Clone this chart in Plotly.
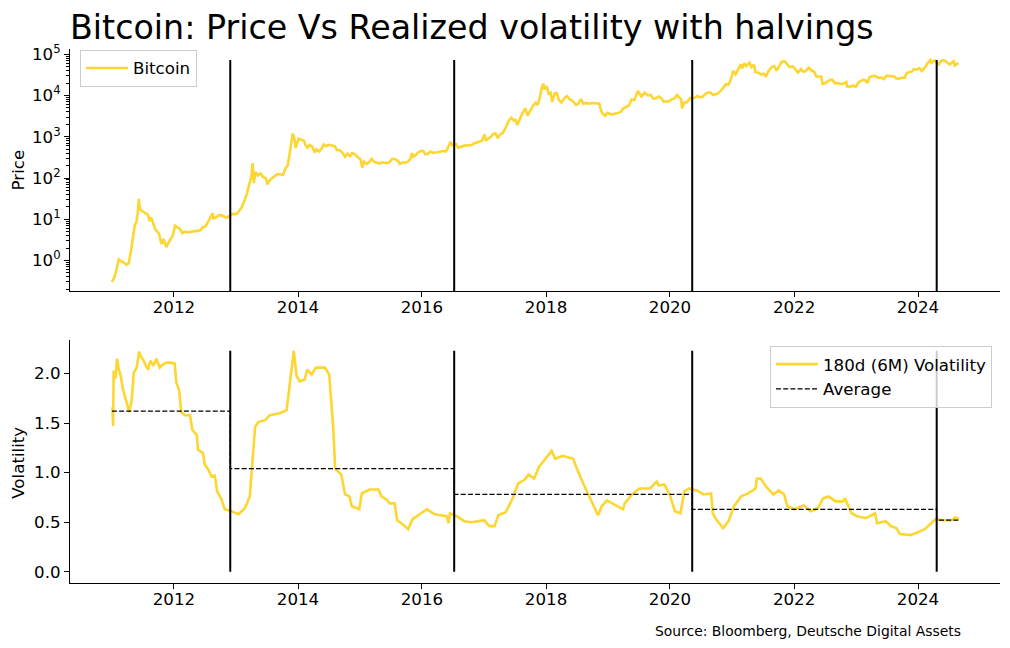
import plotly.graph_objects as go

# ---------------- data ----------------
price_dates = [
    "2011-01-01","2011-01-15","2011-02-01","2011-02-10","2011-02-25","2011-03-10","2011-03-28","2011-04-10",
    "2011-04-25","2011-05-05","2011-05-15","2011-05-25","2011-06-02","2011-06-08","2011-06-15","2011-06-25",
    "2011-07-05","2011-07-20","2011-08-01","2011-08-10","2011-08-20","2011-09-01","2011-09-15","2011-09-25",
    "2011-10-05","2011-10-15","2011-10-20","2011-11-01","2011-11-18","2011-11-28","2011-12-10","2011-12-25",
    "2012-01-08","2012-01-20","2012-02-05","2012-02-20","2012-03-05","2012-03-20","2012-04-05","2012-04-20",
    "2012-05-05","2012-05-20","2012-06-05","2012-06-20","2012-07-05","2012-07-20","2012-08-05","2012-08-16",
    "2012-08-20","2012-09-05","2012-09-20","2012-10-05","2012-10-20","2012-11-05","2012-11-20","2012-12-05",
    "2012-12-20","2013-01-05","2013-01-20","2013-02-05","2013-02-20","2013-03-05","2013-03-20","2013-04-01",
    "2013-04-09","2013-04-16","2013-04-25","2013-05-10","2013-05-25","2013-06-10","2013-06-25","2013-07-05",
    "2013-07-20","2013-08-05","2013-08-20","2013-09-05","2013-09-20","2013-10-05","2013-10-20","2013-11-01",
    "2013-11-10","2013-11-18","2013-11-25","2013-11-30","2013-12-05","2013-12-12","2013-12-18","2013-12-25",
    "2014-01-05","2014-01-20","2014-02-05","2014-02-15","2014-02-25","2014-03-10","2014-03-25","2014-04-10",
    "2014-04-20","2014-05-05","2014-05-20","2014-06-01","2014-06-15","2014-07-01","2014-07-20","2014-08-05",
    "2014-08-18","2014-09-01","2014-09-20","2014-10-05","2014-10-20","2014-11-05","2014-11-15","2014-12-01",
    "2014-12-20","2015-01-05","2015-01-14","2015-01-25","2015-02-10","2015-02-25","2015-03-10","2015-03-25",
    "2015-04-10","2015-04-25","2015-05-10","2015-05-25","2015-06-10","2015-06-25","2015-07-10","2015-07-25",
    "2015-08-10","2015-08-25","2015-09-10","2015-09-25","2015-10-10","2015-10-25","2015-11-04","2015-11-12",
    "2015-11-25","2015-12-10","2015-12-25","2016-01-10","2016-01-20","2016-02-05","2016-02-20","2016-03-05",
    "2016-03-20","2016-04-05","2016-04-20","2016-05-05","2016-05-20","2016-06-01","2016-06-17","2016-06-25",
    "2016-07-05","2016-07-20","2016-08-02","2016-08-20","2016-09-05","2016-09-20","2016-10-05","2016-10-20",
    "2016-11-05","2016-11-20","2016-12-05","2016-12-20","2017-01-04","2017-01-12","2017-01-25","2017-02-10",
    "2017-02-25","2017-03-10","2017-03-24","2017-04-05","2017-04-20","2017-05-05","2017-05-25","2017-06-10",
    "2017-06-25","2017-07-05","2017-07-16","2017-07-30","2017-08-10","2017-08-20","2017-09-01","2017-09-14",
    "2017-09-28","2017-10-10","2017-10-20","2017-11-01","2017-11-12","2017-11-25","2017-12-07","2017-12-17",
    "2017-12-22","2018-01-05","2018-01-17","2018-01-28","2018-02-06","2018-02-20","2018-03-05","2018-03-18",
    "2018-04-01","2018-04-22","2018-05-05","2018-05-20","2018-06-05","2018-06-28","2018-07-10","2018-07-25",
    "2018-08-10","2018-08-25","2018-09-05","2018-09-20","2018-10-05","2018-10-25","2018-11-10","2018-11-25",
    "2018-12-15","2018-12-28","2019-01-10","2019-01-28","2019-02-10","2019-02-25","2019-03-15","2019-04-02",
    "2019-04-20","2019-05-05","2019-05-20","2019-06-05","2019-06-26","2019-07-05","2019-07-17","2019-08-05",
    "2019-08-25","2019-09-10","2019-09-25","2019-10-10","2019-10-26","2019-11-10","2019-11-25","2019-12-10",
    "2019-12-25","2020-01-10","2020-01-25","2020-02-12","2020-02-28","2020-03-08","2020-03-12","2020-03-25",
    "2020-04-10","2020-04-29","2020-05-11","2020-05-25","2020-06-10","2020-06-25","2020-07-10","2020-07-28",
    "2020-08-15","2020-08-30","2020-09-10","2020-09-25","2020-10-10","2020-10-25","2020-11-10","2020-11-25",
    "2020-12-10","2020-12-25","2021-01-08","2021-01-22","2021-02-08","2021-02-21","2021-03-01","2021-03-13",
    "2021-03-25","2021-04-13","2021-04-25","2021-05-10","2021-05-19","2021-06-05","2021-06-22","2021-07-05",
    "2021-07-20","2021-08-05","2021-08-22","2021-09-06","2021-09-21","2021-10-05","2021-10-20","2021-11-08",
    "2021-11-25","2021-12-05","2021-12-25","2022-01-10","2022-01-24","2022-02-10","2022-02-24","2022-03-10",
    "2022-03-29","2022-04-15","2022-04-30","2022-05-12","2022-05-28","2022-06-10","2022-06-18","2022-07-05",
    "2022-07-30","2022-08-14","2022-08-30","2022-09-13","2022-09-28","2022-10-15","2022-11-05","2022-11-10",
    "2022-11-25","2022-12-15","2022-12-31","2023-01-15","2023-01-30","2023-02-15","2023-02-28","2023-03-10",
    "2023-03-22","2023-04-12","2023-04-28","2023-05-12","2023-05-30","2023-06-15","2023-06-30","2023-07-15",
    "2023-07-30","2023-08-15","2023-08-25","2023-09-10","2023-09-28","2023-10-15","2023-10-25","2023-11-10",
    "2023-11-25","2023-12-08","2023-12-25","2024-01-10","2024-01-23","2024-02-10","2024-02-28","2024-03-14",
    "2024-03-20","2024-04-08","2024-04-20","2024-05-01","2024-05-20","2024-06-07","2024-06-25","2024-07-05",
    "2024-07-29","2024-08-05","2024-08-20","2024-08-27",
]
price_values = [
    0.30, 0.38, 0.70, 1.05, 0.95, 0.90, 0.78, 0.85,
    1.9, 3.3, 7.0, 8.5, 14, 31, 18, 16,
    15, 13.5, 13, 9, 11, 8, 5.5, 5.0,
    4.5, 3.0, 2.5, 3.3, 2.1, 2.6, 3.2, 4.0,
    7.0, 6.4, 5.8, 4.6, 5.0, 4.8, 4.9, 5.1,
    5.0, 5.1, 5.4, 6.4, 6.7, 8.6, 11, 14,
    10.5, 11, 12.4, 12.5, 11.8, 10.8, 11.9, 13.0,
    13.5, 13.4, 16, 20, 29, 40, 70, 104,
    230, 75, 140, 115, 130, 105, 100, 70,
    90, 105, 115, 125, 125, 120, 175, 200,
    330, 600, 800, 1130, 1100, 850, 540, 700,
    900, 850, 800, 620, 540, 630, 580, 420,
    500, 440, 520, 650, 590, 640, 620, 590,
    480, 480, 410, 330, 390, 340, 400, 380,
    320, 280, 180, 250, 220, 240, 290, 250,
    235, 225, 240, 238, 230, 245, 290, 290,
    265, 220, 240, 235, 245, 290, 400, 330,
    360, 420, 450, 450, 380, 385, 440, 410,
    410, 420, 440, 450, 440, 530, 760, 630,
    670, 665, 540, 580, 610, 610, 615, 630,
    700, 730, 760, 800, 1130, 800, 900, 1000,
    1180, 1200, 930, 1130, 1240, 1550, 2400, 2900,
    2500, 2600, 1930, 2750, 3400, 4100, 4900, 3250,
    4200, 4800, 6000, 6700, 5900, 8700, 16000, 19500,
    14000, 17000, 11000, 11700, 7000, 11200, 11500, 7800,
    6800, 8900, 9700, 8200, 7500, 5900, 6400, 8200,
    6300, 6700, 6400, 6500, 6600, 6450, 6400, 3900,
    3200, 3800, 3600, 3450, 3650, 3850, 3950, 4900,
    5300, 5800, 8000, 7800, 12900, 11000, 9500, 11800,
    10100, 10300, 8400, 8600, 9500, 8800, 7100, 7300,
    7200, 8100, 8400, 10300, 8700, 8000, 4900, 6700,
    6900, 8800, 8600, 8800, 9800, 9200, 9250, 11000,
    11900, 11700, 10300, 10700, 11300, 13000, 15300, 19000,
    18300, 24700, 40000, 33000, 46000, 57000, 45000, 61000,
    52000, 63500, 49000, 56000, 37000, 36000, 32500, 34000,
    29800, 40000, 49000, 52000, 40500, 51500, 66000, 67500,
    57000, 49000, 50800, 41800, 36300, 44000, 38000, 39000,
    47500, 40500, 38000, 29000, 29400, 29000, 19000, 20200,
    23800, 24400, 19800, 20200, 19400, 19100, 21300, 16600,
    16500, 17400, 16500, 20900, 22800, 24300, 23100, 20300,
    28200, 30200, 29300, 26800, 27700, 25100, 30500, 30300,
    29300, 29200, 26000, 25800, 27000, 27000, 34500, 37300,
    37800, 43800, 43000, 46600, 39500, 47500, 62500, 73000,
    62000, 71600, 64900, 57000, 71400, 70800, 61500, 56700,
    68200, 54000, 59500, 59000,
]

vol_dates = [
    "2011-01-02","2011-01-04","2011-01-08","2011-01-11","2011-01-22","2011-01-31","2011-02-10","2011-02-21",
    "2011-03-07","2011-03-29","2011-04-13","2011-04-27","2011-05-10","2011-05-27","2011-06-10","2011-06-21",
    "2011-07-04","2011-07-20","2011-08-02","2011-08-15","2011-09-02","2011-09-20","2011-10-10","2011-10-27",
    "2011-11-18","2011-12-13","2012-01-06","2012-01-15","2012-02-01","2012-02-13","2012-03-07","2012-04-05",
    "2012-04-19","2012-05-15","2012-05-22","2012-06-20","2012-07-01","2012-07-19","2012-08-10","2012-08-29",
    "2012-09-12","2012-10-08","2012-10-26","2012-12-05","2013-01-15","2013-02-22","2013-03-23","2013-04-09",
    "2013-04-23","2013-05-12","2013-06-21","2013-07-20","2013-09-16","2013-10-26","2013-11-13","2013-11-28",
    "2013-12-07","2013-12-23","2014-01-11","2014-02-10","2014-02-24","2014-03-22","2014-04-16","2014-06-08",
    "2014-07-04","2014-07-17","2014-07-28","2014-08-08","2014-09-13","2014-10-05","2014-10-31","2014-11-14",
    "2014-12-28","2015-01-12","2015-02-28","2015-04-20","2015-05-08","2015-06-07","2015-06-25","2015-07-24",
    "2015-08-08","2015-09-02","2015-10-12","2015-11-07","2015-12-20","2016-01-30","2016-03-17","2016-05-26",
    "2016-06-06","2016-06-14","2016-07-24","2016-09-06","2016-10-20","2017-01-01","2017-02-01","2017-03-04",
    "2017-03-26","2017-05-08","2017-06-18","2017-07-20","2017-08-29","2017-09-20","2017-10-23","2017-11-21",
    "2017-12-24","2018-02-03","2018-02-24","2018-04-09","2018-06-10","2018-07-02","2018-08-11","2018-09-24",
    "2018-11-03","2018-11-25","2018-12-26","2019-02-06","2019-03-31","2019-04-09","2019-05-23","2019-07-04",
    "2019-09-06","2019-10-16","2019-10-27","2019-11-29","2019-12-30","2020-01-30","2020-03-03","2020-03-25",
    "2020-04-23","2020-06-07","2020-07-17","2020-08-30","2020-09-10","2020-09-28","2020-11-10","2020-12-11",
    "2021-01-12","2021-02-23","2021-04-06","2021-05-19","2021-05-27","2021-06-18","2021-07-20","2021-09-01",
    "2021-10-02","2021-11-03","2021-11-23","2022-01-05","2022-02-26","2022-04-09","2022-05-21","2022-06-21",
    "2022-07-24","2022-09-02","2022-10-16","2022-10-27","2022-11-10","2022-12-06","2023-01-08","2023-02-28",
    "2023-04-23","2023-05-05","2023-06-25","2023-07-26","2023-08-26","2023-09-17","2023-11-18","2023-12-21",
    "2024-02-10","2024-03-14","2024-04-13","2024-05-27","2024-07-17","2024-08-08","2024-08-29",
]
vol_values = [
    1.66, 1.66, 1.47, 2.03, 1.95, 2.15, 2.05, 1.98,
    1.84, 1.69, 1.61, 1.73, 2.01, 2.06, 2.22, 2.17,
    2.14, 2.08, 2.04, 2.13, 2.08, 2.15, 2.06, 2.09,
    2.11, 2.11, 2.10, 1.91, 1.83, 1.61, 1.58, 1.58,
    1.43, 1.38, 1.23, 1.20, 1.08, 1.04, 0.96, 0.97,
    0.81, 0.73, 0.63, 0.61, 0.58, 0.64, 0.76, 1.14,
    1.46, 1.51, 1.53, 1.58, 1.60, 1.63, 1.91, 2.08,
    2.23, 1.98, 1.92, 1.94, 2.04, 1.99, 2.06, 2.06,
    1.99, 1.69, 1.44, 1.04, 0.98, 0.78, 0.76, 0.66,
    0.63, 0.79, 0.83, 0.83, 0.76, 0.73, 0.69, 0.69,
    0.52, 0.49, 0.43, 0.53, 0.58, 0.63, 0.58, 0.56,
    0.49, 0.59, 0.56, 0.51, 0.50, 0.52, 0.46, 0.46,
    0.57, 0.60, 0.74, 0.89, 0.93, 0.98, 0.94, 1.06,
    1.13, 1.22, 1.14, 1.17, 1.14, 1.04, 0.88, 0.71,
    0.57, 0.66, 0.72, 0.68, 0.63, 0.69, 0.78, 0.84,
    0.84, 0.91, 0.87, 0.88, 0.78, 0.61, 0.59, 0.81,
    0.84, 0.82, 0.78, 0.79, 0.59, 0.53, 0.44, 0.51,
    0.66, 0.76, 0.79, 0.84, 0.94, 0.94, 0.86, 0.78,
    0.82, 0.78, 0.66, 0.63, 0.67, 0.61, 0.64, 0.74,
    0.76, 0.71, 0.71, 0.74, 0.69, 0.59, 0.56, 0.54,
    0.59, 0.49, 0.51, 0.46, 0.44, 0.38, 0.37, 0.39,
    0.43, 0.48, 0.53, 0.52, 0.52, 0.55, 0.53,
]

halving_dates = ["2012-11-28", "2016-07-09", "2020-05-11", "2024-04-20"]
epoch_bounds = ["2011-01-01", "2012-11-28", "2016-07-09", "2020-05-11", "2024-04-20", "2024-08-27"]
epoch_avg = [1.62, 1.04, 0.78, 0.63, 0.52]

ytick_vals_top = [1, 10, 100, 1000, 10000, 100000]
ytick_text_top = ["10<sup>0</sup>", "10<sup>1</sup>", "10<sup>2</sup>", "10<sup>3</sup>", "10<sup>4</sup>", "10<sup>5</sup>"]

# ---------------- style ----------------
W, H = 1010, 648
GOLD = "#FDD631"
FONT = "DejaVu Sans"
FS = 16.67
TOP_LOG_RANGE = [-0.75, 5.14]
X_RANGE = ["2010-04-29", "2025-04-28"]

def py(px):
    return 1 - px / H

fig = go.Figure()

fig.add_trace(go.Scatter(x=price_dates, y=price_values, mode="lines", name="Bitcoin",
                         line=dict(color=GOLD, width=2.6), xaxis="x", yaxis="y", legend="legend"))
pmax = max(price_values)
for h in halving_dates:
    fig.add_trace(go.Scatter(x=[h, h], y=[10 ** TOP_LOG_RANGE[0], pmax], mode="lines",
                             line=dict(color="black", width=2), showlegend=False,
                             xaxis="x", yaxis="y", hoverinfo="skip"))

fig.add_trace(go.Scatter(x=vol_dates, y=vol_values, mode="lines", name="180d (6M) Volatility",
                         line=dict(color=GOLD, width=2.6), xaxis="x2", yaxis="y2", legend="legend2"))
avg_x, avg_y = [], []
for i, a in enumerate(epoch_avg):
    avg_x += [epoch_bounds[i], epoch_bounds[i + 1]]
    avg_y += [a, a]
fig.add_trace(go.Scatter(x=avg_x, y=avg_y, mode="lines", name="Average",
                         line=dict(color="black", width=1.3, dash="5px,2.2px"),
                         xaxis="x2", yaxis="y2", legend="legend2"))
vmax = max(vol_values)
for h in halving_dates:
    fig.add_trace(go.Scatter(x=[h, h], y=[0, vmax], mode="lines",
                             line=dict(color="black", width=2), showlegend=False,
                             xaxis="x2", yaxis="y2", hoverinfo="skip"))

axis_common = dict(showline=True, linecolor="black", linewidth=1.1, ticks="outside",
                   ticklen=5, tickwidth=1.1, tickcolor="black", showgrid=False, zeroline=False,
                   tickfont=dict(family=FONT, size=FS, color="black"))

xdom = [70 / W, 1000 / W]
legend_common = dict(bgcolor="rgba(255,255,255,0.8)", bordercolor="#cccccc", borderwidth=1,
                     itemwidth=42, font=dict(family=FONT, size=FS, color="black"))
fig.update_layout(
    width=W, height=H, margin=dict(l=0, r=0, t=0, b=0),
    paper_bgcolor="white", plot_bgcolor="white",
    font=dict(family=FONT, color="black"),
    xaxis=dict(domain=xdom, anchor="y", type="date", range=X_RANGE, ticklabelstandoff=-4,
               dtick="M24", tick0="2012-01-01", tickformat="%Y", **axis_common),
    yaxis=dict(domain=[py(288), py(43)], anchor="x", type="log", range=TOP_LOG_RANGE,
               tickmode="array", tickvals=ytick_vals_top, ticktext=ytick_text_top,
               minor=dict(ticks="outside", ticklen=2.8, tickwidth=0.8, tickcolor="black",
                          tickvals=[m * 10 ** e for e in range(-1, 5) for m in range(2, 10)]),
               **axis_common),
    xaxis2=dict(domain=xdom, anchor="y2", type="date", range=X_RANGE, ticklabelstandoff=-4,
                dtick="M24", tick0="2012-01-01", tickformat="%Y", **axis_common),
    yaxis2=dict(domain=[py(582), py(337)], anchor="x2", range=[-0.11, 2.34],
                tickmode="linear", tick0=0, dtick=0.5, tickformat=".1f", **axis_common),
    legend=dict(x=80 / W, y=py(44), xanchor="left", yanchor="top", **legend_common),
    legend2=dict(x=992 / W, y=py(343), xanchor="right", yanchor="top", **legend_common),
    showlegend=True,
)

fig.add_annotation(text="Bitcoin: Price Vs Realized volatility with halvings", xref="paper", yref="paper",
                   x=68 / W, y=py(22), xanchor="left", yanchor="middle", showarrow=False,
                   font=dict(family=FONT, size=33.3, color="black"))
fig.add_annotation(text="Price", xref="paper", yref="paper", x=18 / W, y=py(166),
                   xanchor="center", yanchor="middle", textangle=-90, showarrow=False,
                   font=dict(family=FONT, size=FS, color="black"))
fig.add_annotation(text="Volatility", xref="paper", yref="paper", x=19 / W, y=py(461),
                   xanchor="center", yanchor="middle", textangle=-90, showarrow=False,
                   font=dict(family=FONT, size=FS, color="black"))
fig.add_annotation(text="Source: Bloomberg, Deutsche Digital Assets", xref="paper", yref="paper",
                   x=653 / W, y=py(631), xanchor="left", yanchor="middle", showarrow=False,
                   font=dict(family=FONT, size=13.9, color="black"))

fig.write_html("out.html")
